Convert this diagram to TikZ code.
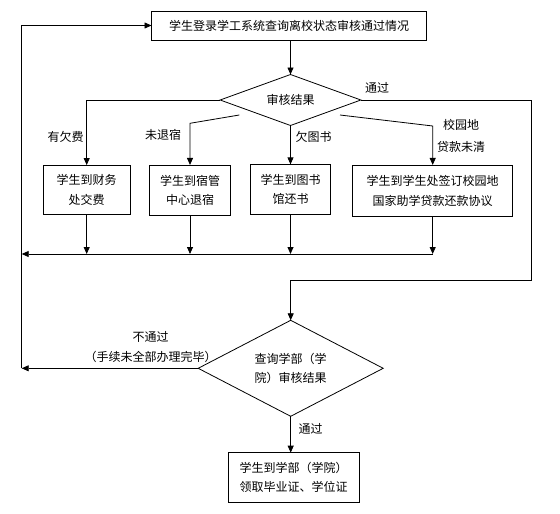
\documentclass[tikz,border=0pt]{standalone}
\usepackage{fontspec}
\setmainfont{Noto Sans CJK SC}
\usetikzlibrary{arrows.meta,shapes.geometric}
\begin{document}
\begin{tikzpicture}[x=1pt,y=-1pt,
  every node/.style={font=\fontsize{12}{19.5}\selectfont, inner sep=0pt, outer sep=0pt},
  box/.style={draw, rectangle, align=center, line width=0.8pt},
  dia/.style={draw, diamond, align=center, line width=0.8pt},
  conn/.style={line width=0.8pt},
  arr/.style={conn, -{Triangle[length=7pt,width=6pt]}},
  lbl/.style={align=center}]
\useasboundingbox[fill=white] (0,0) rectangle (560,514);

% nodes
\node[box, minimum width=275pt, minimum height=29pt] (top) at (289,25.5) {学生登录学工系统查询离校状态审核通过情况};
\node[dia, minimum width=140.7pt, minimum height=51pt, shape aspect=2.76] (d1) at (290.5,100) {审核结果};
\node[box, minimum width=86.7pt, minimum height=49.5pt] (b1) at (86.7,189.8) {学生到财务\\处交费};
\node[box, minimum width=81.7pt, minimum height=50.7pt] (b2) at (190,190.3) {学生到宿管\\中心退宿};
\node[box, minimum width=80pt, minimum height=49.7pt] (b3) at (290.5,189.2) {学生到图书\\馆还书};
\node[box, minimum width=160pt, minimum height=51.7pt] (b4) at (432.7,190.8) {学生到学生处签订校园地\\国家助学贷款还款协议};
\node[dia, minimum width=185pt, minimum height=96pt, shape aspect=1.93] (d2) at (290.7,368.3) {查询学部（学\\院）审核结果};
\node[box, minimum width=131pt, minimum height=49.3pt] (fin) at (293.5,477.3) {学生到学部（学院）\\领取毕业证、学位证};

% labels
\node[lbl] (l0) at (377,88) {通过};
\node[lbl] (l1) at (65.5,136.5) {有欠费};
\node[lbl] (l2) at (163,135) {未退宿};
\node[lbl] (l3) at (313.5,136.5) {欠图书};
\node[lbl, font=\fontsize{12}{21.5}\selectfont] (l4) at (461,136) {校园地\\贷款未清};
\node[lbl] (l5) at (150.5,347) {不通过\\（手续未全部办理完毕）};
\node[lbl] (l6) at (310.5,429) {通过};

% bend points
\coordinate (cL) at (86.7,100);
\coordinate (s2) at (239.3,115);
\coordinate (k2) at (190,123.3);
\coordinate (s4) at (340,115);
\coordinate (k4) at (432.7,126);
\coordinate (colE) at (432.7,254);
\coordinate (colW) at (21.7,254);
\coordinate (lpB) at (21.7,368.3);
\coordinate (lpT) at (21.7,25.5);
\coordinate (rT) at (531,100);
\coordinate (rB) at (531,280);
\coordinate (mB) at (290.7,280);

% connectors
\draw[arr] (d1.north |- top.south) -- (d1.north);
\draw[arr] (d1.west) -- (cL) -- (b1.north);
\draw[arr] (s2) -- (k2) -- (b2.north);
\draw[arr] (d1.south) -- (b3.north);
\draw[arr] (s4) -- (k4) -- (b4.north);
\draw[arr] (b1.south) -- (b1.south |- colW);
\draw[arr] (b2.south) -- (b2.south |- colW);
\draw[arr] (b3.south) -- (b3.south |- colW);
\draw[arr] (b4.south) -- (colE);
\draw[arr] (colE) -- (colW);
\draw[arr] (d1.east) -- (rT) -- (rB) -- (mB) -- (d2.north);
\draw[arr] (d2.west) -- (lpB);
\draw[arr] (lpB) -- (lpT) -- (top.west);
\draw[arr] (d2.south) -- (d2.south |- fin.north);
\end{tikzpicture}
\end{document}
